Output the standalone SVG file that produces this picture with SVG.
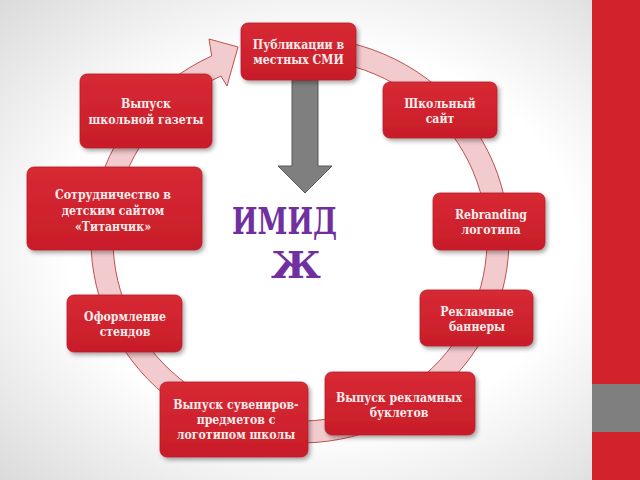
<svg xmlns="http://www.w3.org/2000/svg" width="640" height="480" viewBox="0 0 640 480">
  <defs>
    <radialGradient id="bg" cx="50%" cy="50%" r="72%">
      <stop offset="0.55" stop-color="#ffffff"/>
      <stop offset="1" stop-color="#d9d9d9"/>
    </radialGradient>
    <linearGradient id="nodeFill" x1="0" y1="0" x2="0" y2="1">
      <stop offset="0" stop-color="#d72a34"/>
      <stop offset="1" stop-color="#c81d29"/>
    </linearGradient>
    <filter id="shadow" x="-20%" y="-20%" width="140%" height="150%">
      <feDropShadow dx="2" dy="2.5" stdDeviation="2" flood-color="#000" flood-opacity="0.35"/>
    </filter>
    <style>
      .node rect { fill: url(#nodeFill); stroke: #b81c26; stroke-width: 0.8; filter: url(#shadow); }
      .node text { font-family: "DejaVu Serif", "Liberation Serif", serif; font-stretch: condensed; font-weight: bold; font-size: 12.2px; fill: #fbecec; text-anchor: middle; }
      .ring { fill: #f1cbce; stroke: #c0504d; stroke-width: 1; }
      .title { font-family: "DejaVu Serif", "Liberation Serif", serif; font-weight: bold; font-size: 38px; fill: #7030a0; }
    </style>
  </defs>

  <rect x="0" y="0" width="640" height="480" fill="url(#bg)"/>
  <rect x="592" y="0" width="48" height="480" fill="#d2232d"/>
  <rect x="592" y="384" width="48" height="48" fill="#7f7f7f"/>

  <g id="connectors">
    <path class="ring" d="M 336.3 40.1 A 209 203 0 1 1 211.7 56.0 L 209 39 L 238 47 L 227 86 L 221 76 A 187 181 0 1 0 332.5 61.8 Z"/>
    <polygon points="292,80 318,80 318,166 332,166 305,193 278,166 292,166" fill="#7f7f7f" stroke="#595959" stroke-width="1"/>
  </g>

  <g id="n1" class="node">
    <rect x="241" y="23" width="115" height="57" rx="7"/>
    <text x="298.5" y="49">Публикации в</text>
    <text x="298.5" y="64">местных СМИ</text>
  </g>
  <g id="n2" class="node">
    <rect x="383" y="82" width="114" height="56" rx="7"/>
    <text x="440" y="108">Школьный</text>
    <text x="440" y="123">сайт</text>
  </g>
  <g id="n3" class="node">
    <rect x="433" y="193" width="112" height="57" rx="7"/>
    <text x="491" y="219">Rebranding</text>
    <text x="491" y="234">логотипа</text>
  </g>
  <g id="n4" class="node">
    <rect x="420" y="290" width="113" height="56" rx="7"/>
    <text x="477" y="316">Рекламные</text>
    <text x="477" y="331">баннеры</text>
  </g>
  <g id="n5" class="node">
    <rect x="325" y="372" width="150" height="63" rx="7"/>
    <text x="399" y="402">Выпуск рекламных</text>
    <text x="399" y="417">буклетов</text>
  </g>
  <g id="n6" class="node">
    <rect x="160" y="382" width="148" height="75" rx="7"/>
    <text x="236" y="409">Выпуск сувениров-</text>
    <text x="236" y="424">предметов с</text>
    <text x="236" y="439">логотипом школы</text>
  </g>
  <g id="n7" class="node">
    <rect x="67" y="295" width="115" height="57" rx="7"/>
    <text x="125" y="321">Оформление</text>
    <text x="125" y="336">стендов</text>
  </g>
  <g id="n8" class="node">
    <rect x="27" y="167" width="175" height="83" rx="7"/>
    <text x="113" y="199">Сотрудничество в</text>
    <text x="113" y="215">детским сайтом</text>
    <text x="113" y="231">«Титанчик»</text>
  </g>
  <g id="n9" class="node">
    <rect x="80" y="74" width="132" height="74" rx="7"/>
    <text x="146" y="108">Выпуск</text>
    <text x="146" y="124">школьной газеты</text>
  </g>

  <g id="center-label">
    <text class="title" x="232" y="234" textLength="105" lengthAdjust="spacingAndGlyphs">ИМИД</text>
    <text class="title" x="296" y="278" text-anchor="middle" font-size="36">Ж</text>
  </g>
</svg>
